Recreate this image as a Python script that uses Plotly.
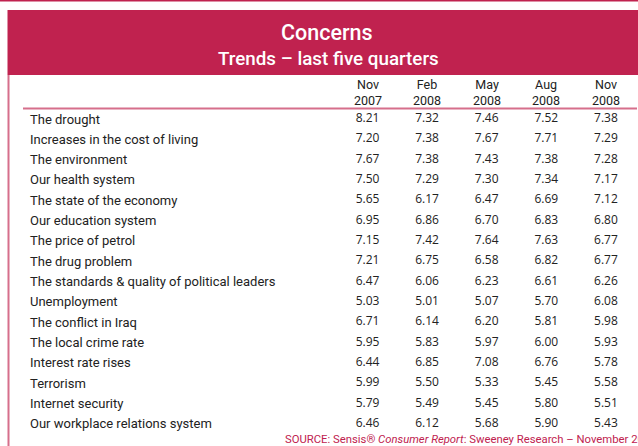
import plotly.graph_objects as go

W, H = 638, 446

concerns = [
    "The drought",
    "Increases in the cost of living",
    "The environment",
    "Our health system",
    "The state of the economy",
    "Our education system",
    "The price of petrol",
    "The drug problem",
    "The standards & quality of political leaders",
    "Unemployment",
    "The conflict in Iraq",
    "The local crime rate",
    "Interest rate rises",
    "Terrorism",
    "Internet security",
    "Our workplace relations system",
]
quarters = ["Nov 2007", "Feb 2008", "May 2008", "Aug 2008", "Nov 2008"]
nov_2007 = [8.21, 7.20, 7.67, 7.50, 5.65, 6.95, 7.15, 7.21, 6.47, 5.03, 6.71, 5.95, 6.44, 5.99, 5.79, 6.46]
feb_2008 = [7.32, 7.38, 7.38, 7.29, 6.17, 6.86, 7.42, 6.75, 6.06, 5.01, 6.14, 5.83, 6.85, 5.50, 5.49, 6.12]
may_2008 = [7.46, 7.67, 7.43, 7.30, 6.47, 6.70, 7.64, 6.58, 6.23, 5.07, 6.20, 5.97, 7.08, 5.33, 5.45, 5.68]
aug_2008 = [7.52, 7.71, 7.38, 7.34, 6.69, 6.83, 7.63, 6.82, 6.61, 5.70, 5.81, 6.00, 6.76, 5.45, 5.80, 5.90]
nov_2008 = [7.38, 7.29, 7.28, 7.17, 7.12, 6.80, 6.77, 6.77, 6.26, 6.08, 5.98, 5.93, 5.78, 5.58, 5.51, 5.43]
series = [nov_2007, feb_2008, may_2008, aug_2008, nov_2008]

title = "Concerns"
subtitle = "Trends \u2013 last five quarters"
source = "SOURCE: Sensis\u00ae <i>Consumer Report</i>: Sweeney Research \u2013 November 2008"

RED = "#C0224F"
PINK = "#D66F8B"
LAB = "Roboto, Liberation Sans, sans-serif"
NUM = "Open Sans, Noto Sans, sans-serif"


def px(x):
    return x / W


def py(y):
    return 1 - y / H


# axis geometry (pixel positions of first column / row and their spacing)
col0, dcol = 367.5, 59.6
row0, drow = 119.0, 20.33

fig = go.Figure()
for q, vals in zip(quarters, series):
    fig.add_trace(go.Scatter(
        x=[q] * len(concerns), y=concerns, mode="text",
        text=[f"{v:.2f}" for v in vals], textposition="middle center",
        textfont=dict(family=NUM, size=12, color="#222222"),
        hoverinfo="skip", showlegend=False,
    ))

annotations = []
for c in concerns:
    annotations.append(dict(x=px(28), xref="paper", y=c, yref="y", text=c,
                            showarrow=False, xanchor="left", yanchor="middle",
                            font=dict(family=LAB, size=13, color="#222222")))
for q in quarters:
    m, yr = q.split(" ")
    annotations.append(dict(x=q, xref="x", y=py(92), yref="paper", text=f"{m}<br>{yr}",
                            showarrow=False, xanchor="center", yanchor="middle",
                            font=dict(family=LAB, size=12.5, color="#222222")))
annotations += [
    dict(x=px(327), y=py(33), xref="paper", yref="paper", text=title, showarrow=False,
         xanchor="center", yanchor="middle",
         font=dict(family=LAB, size=21.5, color="white", weight=500)),
    dict(x=px(328), y=py(59), xref="paper", yref="paper", text=subtitle, showarrow=False,
         xanchor="center", yanchor="middle",
         font=dict(family=LAB, size=18.8, color="white", weight=500)),
    dict(x=px(283), y=py(439), xref="paper", yref="paper", text=source, showarrow=False,
         xanchor="left", yanchor="middle", font=dict(family=LAB, size=11.3, color=RED)),
]

shapes = [
    dict(type="rect", xref="paper", yref="paper", x0=px(0), x1=px(W), y0=py(0), y1=py(1.5),
         fillcolor=RED, line_width=0, layer="below"),
    dict(type="rect", xref="paper", yref="paper", x0=px(7.5), x1=px(W), y0=py(10), y1=py(75),
         fillcolor=RED, line_width=0, layer="below"),
    dict(type="line", xref="paper", yref="paper", x0=px(8.5), x1=px(8.5), y0=py(75), y1=py(446),
         line=dict(color=PINK, width=2)),
    dict(type="line", xref="paper", yref="paper", x0=px(23), x1=px(637), y0=py(108.5), y1=py(108.5),
         line=dict(color=PINK, width=2)),
]

fig.update_layout(
    width=W, height=H, margin=dict(l=0, r=0, t=0, b=0),
    paper_bgcolor="white", plot_bgcolor="white",
    xaxis=dict(type="category", categoryorder="array", categoryarray=quarters,
               range=[-col0 / dcol, (W - col0) / dcol], visible=False, fixedrange=True),
    yaxis=dict(type="category", categoryorder="array", categoryarray=concerns,
               range=[(H - row0) / drow, -row0 / drow], visible=False, fixedrange=True),
    annotations=annotations, shapes=shapes,
)

fig.write_html("out.html", config={"displayModeBar": False},
               post_script="document.body.style.margin='0';document.body.style.overflow='hidden';")
